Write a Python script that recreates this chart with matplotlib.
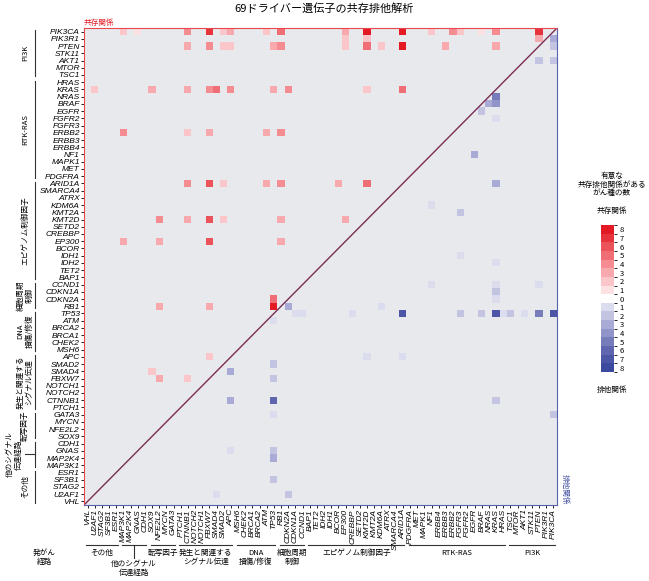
import numpy as np
import matplotlib
matplotlib.use('Agg')
import matplotlib.pyplot as plt
from matplotlib.colors import ListedColormap, BoundaryNorm
from matplotlib.transforms import blended_transform_factory

plt.rcParams['font.family'] = ['Noto Sans CJK JP', 'DejaVu Sans']

genes = ['PIK3CA', 'PIK3R1', 'PTEN', 'STK11', 'AKT1', 'MTOR', 'TSC1',
         'HRAS', 'KRAS', 'NRAS', 'BRAF', 'EGFR', 'FGFR2', 'FGFR3', 'ERBB2',
         'ERBB3', 'ERBB4', 'NF1', 'MAPK1', 'MET', 'PDGFRA',
         'ARID1A', 'SMARCA4', 'ATRX', 'KDM6A', 'KMT2A', 'KMT2D', 'SETD2',
         'CREBBP', 'EP300', 'BCOR', 'IDH1', 'IDH2', 'TET2', 'BAP1',
         'CCND1', 'CDKN1A', 'CDKN2A', 'RB1',
         'TP53', 'ATM', 'BRCA2', 'BRCA1', 'CHEK2', 'MSH6',
         'APC', 'SMAD2', 'SMAD4', 'FBXW7', 'NOTCH1', 'NOTCH2', 'CTNNB1', 'PTCH1',
         'GATA3', 'MYCN', 'NFE2L2', 'SOX9',
         'CDH1', 'GNAS', 'MAP2K4', 'MAP3K1',
         'ESR1', 'SF3B1', 'STAG2', 'U2AF1', 'VHL']

# (row gene, column gene, number of cancer types) co-occurrence
cooccur = [
    ('PIK3CA', 'MAP3K1', 2), ('PIK3CA', 'GNAS', 1), ('PIK3CA', 'CTNNB1', 4),
    ('PIK3CA', 'FBXW7', 7), ('PIK3CA', 'SMAD2', 2), ('PIK3CA', 'APC', 3),
    ('PIK3CA', 'ATM', 2), ('PIK3CA', 'RB1', 5), ('PIK3CA', 'EP300', 3),
    ('PIK3CA', 'KMT2D', 8), ('PIK3CA', 'ARID1A', 8), ('PIK3CA', 'NF1', 2),
    ('PIK3CA', 'ERBB2', 4), ('PIK3CA', 'FGFR3', 2), ('PIK3CA', 'BRAF', 1),
    ('PIK3CA', 'KRAS', 4), ('PIK3CA', 'PTEN', 7),
    ('PIK3R1', 'EP300', 2), ('PIK3R1', 'KMT2D', 2), ('PIK3R1', 'PTEN', 3),
    ('PTEN', 'CTNNB1', 3), ('PTEN', 'FBXW7', 4), ('PTEN', 'SMAD2', 2),
    ('PTEN', 'APC', 2), ('PTEN', 'TP53', 3), ('PTEN', 'RB1', 4),
    ('PTEN', 'EP300', 2), ('PTEN', 'KMT2D', 5), ('PTEN', 'KDM6A', 2),
    ('PTEN', 'ARID1A', 8), ('PTEN', 'ERBB3', 3), ('PTEN', 'KRAS', 3),
    ('KRAS', 'U2AF1', 2), ('KRAS', 'SOX9', 3), ('KRAS', 'CTNNB1', 3),
    ('KRAS', 'FBXW7', 4), ('KRAS', 'SMAD4', 5), ('KRAS', 'APC', 4),
    ('KRAS', 'TP53', 3), ('KRAS', 'CDKN2A', 4), ('KRAS', 'KMT2D', 2),
    ('KRAS', 'ARID1A', 5),
    ('ERBB2', 'MAP3K1', 4), ('ERBB2', 'CTNNB1', 2), ('ERBB2', 'FBXW7', 3),
    ('ERBB2', 'ATM', 3), ('ERBB2', 'RB1', 4),
    ('ARID1A', 'CTNNB1', 4), ('ARID1A', 'FBXW7', 6), ('ARID1A', 'SMAD2', 2),
    ('ARID1A', 'ATM', 3), ('ARID1A', 'RB1', 4), ('ARID1A', 'BCOR', 3),
    ('ARID1A', 'KMT2D', 5),
    ('KMT2D', 'NFE2L2', 4), ('KMT2D', 'CTNNB1', 3), ('KMT2D', 'FBXW7', 6),
    ('KMT2D', 'SMAD2', 2), ('KMT2D', 'RB1', 3), ('KMT2D', 'EP300', 3),
    ('EP300', 'MAP3K1', 3), ('EP300', 'NFE2L2', 3), ('EP300', 'FBXW7', 6),
    ('EP300', 'RB1', 3),
    ('CDKN2A', 'TP53', 5), ('RB1', 'TP53', 8), ('RB1', 'NFE2L2', 3),
    ('RB1', 'FBXW7', 3),
    ('APC', 'FBXW7', 2), ('SMAD4', 'SOX9', 2), ('FBXW7', 'NFE2L2', 3),
    ('FBXW7', 'CTNNB1', 2),
]

# (row gene, column gene, number of cancer types) mutual exclusivity
exclusive = [
    ('PIK3R1', 'PIK3CA', 3), ('PTEN', 'PIK3CA', 2), ('AKT1', 'PTEN', 2),
    ('AKT1', 'PIK3CA', 2),
    ('NRAS', 'KRAS', 5), ('BRAF', 'KRAS', 4), ('BRAF', 'NRAS', 3),
    ('EGFR', 'BRAF', 2), ('FGFR2', 'KRAS', 1), ('NF1', 'EGFR', 3),
    ('ARID1A', 'KRAS', 3), ('KMT2A', 'FGFR3', 2), ('KDM6A', 'NF1', 1),
    ('IDH1', 'FGFR3', 1), ('IDH2', 'KRAS', 1),
    ('CCND1', 'KRAS', 1), ('CDKN1A', 'KRAS', 2), ('CDKN2A', 'KRAS', 1),
    ('CCND1', 'NF1', 1), ('CCND1', 'PTEN', 1),
    ('RB1', 'CDKN2A', 3), ('RB1', 'KDM6A', 1),
    ('TP53', 'CDKN1A', 1), ('TP53', 'CCND1', 1), ('TP53', 'CREBBP', 1),
    ('TP53', 'ARID1A', 7), ('TP53', 'FGFR3', 2), ('TP53', 'BRAF', 2),
    ('TP53', 'HRAS', 1), ('TP53', 'KRAS', 7), ('TP53', 'TSC1', 2),
    ('TP53', 'AKT1', 1), ('TP53', 'PTEN', 5), ('TP53', 'PIK3CA', 7),
    ('ATM', 'TP53', 1),
    ('APC', 'KMT2D', 1), ('APC', 'ARID1A', 1),
    ('SMAD2', 'TP53', 2), ('SMAD4', 'APC', 3), ('FBXW7', 'TP53', 2),
    ('CTNNB1', 'APC', 3), ('CTNNB1', 'TP53', 6), ('CTNNB1', 'KRAS', 2),
    ('GATA3', 'TP53', 1), ('GATA3', 'PIK3CA', 2),
    ('GNAS', 'TP53', 2), ('GNAS', 'APC', 1), ('MAP2K4', 'TP53', 3),
    ('SF3B1', 'TP53', 2), ('U2AF1', 'SMAD4', 1), ('U2AF1', 'CDKN2A', 2),
]

left_groups = [(0, 6, 'PI3K'), (7, 20, 'RTK-RAS'), (21, 34, 'エピゲノム制御因子'),
               (35, 38, '細胞周期\n制御'), (39, 44, 'DNA\n損傷/修復'),
               (45, 52, '発生と関連する\nシグナル伝達'), (53, 56, '転写因子'),
               (57, 60, '他のシグナル\n伝達経路'), (61, 65, 'その他')]
bottom_groups = [(0, 4, 'その他'), (5, 8, '他のシグナル\n伝達経路'), (9, 12, '転写因子'),
                 (13, 20, '発生と関連する\nシグナル伝達'), (21, 26, 'DNA\n損傷/修復'),
                 (27, 30, '細胞周期\n制御'), (31, 44, 'エピゲノム制御因子'),
                 (45, 58, 'RTK-RAS'), (59, 65, 'PI3K')]

n = len(genes)
col_genes = genes[::-1]

M = np.zeros((n, n))
for a, b, v in cooccur:
    M[genes.index(a), col_genes.index(b)] = v
for a, b, v in exclusive:
    M[genes.index(a), col_genes.index(b)] = -v

reds = ['#fde2e4', '#fbc6ca', '#f8a9ae', '#f58c92', '#f06f76', '#ec5259', '#e7343c', '#e31a23']
blues = ['#dcdcef', '#c2c4e2', '#a9abd6', '#9094c9', '#777cbb', '#5f65ae', '#4c55a6', '#3b4a9e']
bounds = np.arange(-8.5, 9.5, 1)
cmap_plot = ListedColormap(blues[::-1] + ['#e8e9ec'] + reds)
cmap_bar = ListedColormap(blues[::-1] + ['#ffffff'] + reds)
norm = BoundaryNorm(bounds, cmap_plot.N)

tickfont = ['Liberation Sans Narrow', 'Liberation Sans', 'DejaVu Sans']
gfs = 5.5

fig = plt.figure(figsize=(6.49, 5.81), dpi=100)
ax = fig.add_axes([84 / 649, 1 - 505 / 581, 473 / 649, 477 / 581])
ax.imshow(M, cmap=cmap_plot, norm=norm, aspect='auto', interpolation='nearest')
ax.plot([-0.5, n - 0.5], [n - 0.5, -0.5], color='#7b2d55', lw=1)
ax.set_xlim(-0.5, n - 0.5)
ax.set_ylim(n - 0.5, -0.5)

ax.set_yticks(range(n))
ax.set_yticklabels(genes, fontsize=6, style='italic', family=tickfont)
ax.set_xticks(range(n))
ax.set_xticklabels(col_genes, fontsize=6, style='italic', rotation=90, family=tickfont)
ax.tick_params(length=2, width=0.6, pad=1)
for s in ['left', 'top']:
    ax.spines[s].set_color('#e8474f')
for s in ['bottom', 'right']:
    ax.spines[s].set_color('#5a62b0')
ax.text(0, 1.003, '共存関係', transform=ax.transAxes, color='#e31a23', fontsize=gfs, va='bottom')
ax.text(1.008, 0, '排他関係', transform=ax.transAxes, color='#3b4a9e', fontsize=gfs,
        rotation=270, va='bottom', ha='left')

tl = blended_transform_factory(ax.transAxes, ax.transData)
for a, b, lab in left_groups:
    ax.plot([-0.104, -0.104], [a - 0.2, b + 0.2], color='#333333', lw=0.8,
            transform=tl, clip_on=False)
    if lab.startswith('他の'):
        ax.plot([-0.125, -0.104], [(a + b) / 2] * 2, color='#333333', lw=0.8,
                transform=tl, clip_on=False)
        ax.text(-0.148, (a + b) / 2, lab, transform=tl, rotation=90, fontsize=gfs,
                ha='center', va='center')
    else:
        ax.text(-0.125, (a + b) / 2, lab, transform=tl, rotation=90, fontsize=gfs,
                ha='center', va='center')

tb = blended_transform_factory(ax.transData, fig.transFigure)
yl = 1 - 545 / 581
for a, b, lab in bottom_groups:
    ax.plot([a - 0.2, b + 0.2], [yl, yl], color='#333333', lw=0.8,
            transform=tb, clip_on=False)
    if lab.startswith('他の'):
        ax.plot([(a + b) / 2] * 2, [yl, yl - 0.022], color='#333333', lw=0.8,
                transform=tb, clip_on=False)
        ax.text((a + b) / 2, yl - 0.026, lab, transform=tb, fontsize=gfs,
                ha='center', va='top', linespacing=1.1)
    else:
        ax.text((a + b) / 2, yl - 0.007, lab, transform=tb, fontsize=gfs,
                ha='center', va='top', linespacing=1.1)
fig.text(44 / 649, yl - 0.007, '発がん\n経路', fontsize=gfs, ha='center', va='top',
         linespacing=1.1)

fig.suptitle('69ドライバー遺伝子の共存排他解析', fontsize=8, y=0.995)

cax = fig.add_axes([601 / 649, 1 - 372 / 581, 13 / 649, 147 / 581])
sm = plt.cm.ScalarMappable(cmap=cmap_bar, norm=norm)
cb = fig.colorbar(sm, cax=cax, ticks=np.arange(-8, 9))
cb.ax.set_yticklabels([str(abs(t)) for t in range(-8, 9)], fontsize=gfs)
cb.ax.tick_params(length=0, pad=4)
cb.outline.set_visible(False)
fig.text(612 / 649, 1 - 172 / 581, '有意な\n共存排他関係がある\nがん種の数', fontsize=gfs,
         ha='center', va='top', linespacing=1.1)
fig.text(612 / 649, 1 - 211 / 581, '共存関係', fontsize=gfs, ha='center', va='center')
fig.text(612 / 649, 1 - 390 / 581, '排他関係', fontsize=gfs, ha='center', va='center')

fig.savefig('out.png', dpi=100)
